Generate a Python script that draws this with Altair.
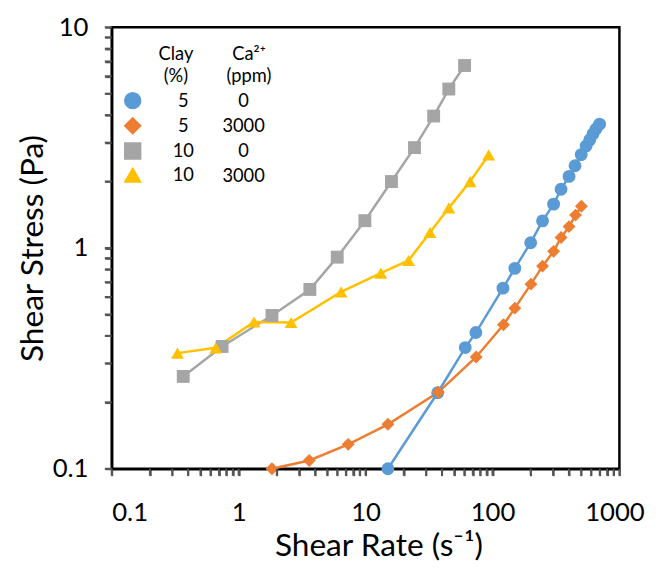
import altair as alt
import pandas as pd

# ---- data ----
series_names = ["5% clay, 0 ppm", "5% clay, 3000 ppm", "10% clay, 0 ppm", "10% clay, 3000 ppm"]
clay_pct = ["5", "5", "10", "10"]
ca_ppm = ["0", "3000", "0", "3000"]
colors = ["#5B9BD5", "#ED7D31", "#A5A5A5", "#FFC000"]
shapes = ["circle", "diamond", "square", "triangle-up"]

blue_x = [15, 37, 61, 74, 121, 150, 200, 248, 303, 347, 401, 447, 500, 547, 584, 620, 654, 698]
blue_y = [0.1, 0.221, 0.354, 0.414, 0.658, 0.809, 1.057, 1.327, 1.58, 1.845, 2.11, 2.36, 2.65, 2.90, 3.09, 3.29, 3.46, 3.64]

orange_x = [1.83, 3.6, 7.3, 15.0, 37.4, 74.4, 122, 150, 201, 248, 303, 347, 401, 451, 502]
orange_y = [0.1, 0.109, 0.129, 0.159, 0.222, 0.321, 0.449, 0.534, 0.686, 0.828, 0.966, 1.116, 1.25, 1.41, 1.545]

gray_x = [0.366, 0.741, 1.83, 3.64, 5.98, 9.88, 16.0, 24.3, 34.4, 45.3, 60.3]
gray_y = [0.262, 0.358, 0.495, 0.649, 0.909, 1.33, 2.0, 2.85, 3.96, 5.25, 6.71]

yellow_x = [0.33, 0.66, 1.32, 2.59, 6.42, 13.2, 21.8, 32.2, 45.3, 66.6, 93.3]
yellow_y = [0.334, 0.353, 0.462, 0.460, 0.633, 0.770, 0.878, 1.175, 1.52, 2.0, 2.64]

# ---- build table ----
ca_keys = ["Ca row " + str(i + 1) for i in range(len(series_names))]
rows = []
for name, ck, xs, ys in zip(series_names, ca_keys, [blue_x, orange_x, gray_x, yellow_x], [blue_y, orange_y, gray_y, yellow_y]):
    for i, (xv, yv) in enumerate(zip(xs, ys)):
        rows.append({"series": name, "series_ca": ck, "idx": i, "rate": xv, "stress": yv})
df = pd.DataFrame(rows)

x_ticks = [round(m * 10 ** e, 6) for e in range(-1, 3) for m in range(1, 10)] + [1000]
y_ticks = [round(m * 10 ** e, 6) for e in range(-1, 1) for m in range(1, 10)] + [10]

major_test = "abs(log(datum.value)/LN10 - round(log(datum.value)/LN10)) < 1e-6"
label_expr = f"{major_test} ? format(datum.value, '~g') : ''"


def map_expr(keys, labels):
    expr = "''"
    for name, lab in reversed(list(zip(keys, labels))):
        expr = f"datum.label == '{name}' ? '{lab}' : ({expr})"
    return expr


FONT = "Lato"
PLOT_W, PLOT_H, TICK = 514, 447, 7
TICK_COLOR = "#555555"
COMMON = dict(ticks=True, tickWidth=2, tickSize=TICK, tickColor=TICK_COLOR, tickOpacity=1,
              domain=True, domainColor="black", domainWidth=2.5, grid=False)

x_enc = alt.X(
    "rate:Q",
    scale=alt.Scale(type="log", domain=[0.1, 1000], nice=False),
    axis=alt.Axis(
        values=x_ticks,
        labelExpr=label_expr,
        title="Shear Rate (s\u207b\u00b9)",
        labelFlush=False,
        labelOverlap=False,
        labelAlign={"condition": {"test": "datum.value < 0.2", "value": "left"}, "value": "center"},
        labelOffset={"condition": {"test": "datum.value > 999", "value": -5}, "value": 0},
        labelPadding=24,
        titlePadding=6,
        titleX=270,
        **COMMON,
    ),
)
y_enc = alt.Y(
    "stress:Q",
    scale=alt.Scale(type="log", domain=[0.1, 10], nice=False),
    axis=alt.Axis(
        values=y_ticks,
        labelExpr=label_expr,
        title="Shear Stress (Pa)",
        labelOverlap=False,
        labelFlush=False,
        labelPadding=17,
        titlePadding=3,
        **COMMON,
    ),
)

color_scale = alt.Scale(domain=series_names, range=colors)
shape_scale = alt.Scale(domain=series_names, range=shapes)

legend_clay = alt.Legend(
    orient="none", legendX=12, legendY=65, title=None,
    labelExpr=map_expr(series_names, clay_pct), labelAlign="center", labelOffset=42,
    symbolSize=260, symbolStrokeColor="#4A76B8", symbolStrokeWidth=1.5, symbolOpacity=1,
    labelFont="Lato", labelFontSize=18.5, labelColor="black", rowPadding=2.5, padding=0,
)
legend_ca = alt.Legend(
    orient="none", legendX=115, legendY=65, title=None,
    labelExpr=map_expr(ca_keys, ca_ppm), labelAlign="center", labelOffset=0,
    symbolSize=1, symbolOpacity=0, symbolStrokeWidth=0, symbolFillColor="transparent",
    labelFont="Lato", labelFontSize=18.5, labelColor="black", rowPadding=6.5, padding=0,
)

base = alt.Chart(df)

lines = base.mark_line(strokeWidth=2.5).encode(
    x=x_enc, y=y_enc,
    color=alt.Color("series:N", scale=color_scale, legend=legend_clay),
    order="idx:Q",
)

points = base.mark_point(filled=True, size=170, opacity=1).encode(
    x=x_enc, y=y_enc,
    color=alt.Color("series:N", scale=color_scale, legend=legend_clay),
    shape=alt.Shape("series:N", scale=shape_scale, legend=legend_clay),
    opacity=alt.Opacity("series_ca:N", scale=alt.Scale(domain=ca_keys, range=[1, 1, 1, 1]), legend=legend_ca),
)

# outward tick marks drawn as rules at the axis tick values
x_tick_marks = alt.Chart(pd.DataFrame({"rate": x_ticks})).mark_rule(color=TICK_COLOR, strokeWidth=2).encode(
    x=x_enc, y=alt.value(PLOT_H), y2=alt.value(PLOT_H + TICK),
)
y_tick_marks = alt.Chart(pd.DataFrame({"stress": y_ticks})).mark_rule(color=TICK_COLOR, strokeWidth=2).encode(
    y=y_enc, x=alt.value(0), x2=alt.value(-TICK),
)

hdr_df = pd.DataFrame({"k": [0]})
hdr_clay = alt.Chart(hdr_df).mark_text(
    text="Clay\n(%)", lineBreak="\n", lineHeight=22, font=FONT, fontSize=18.5,
    align="center", baseline="middle", color="black",
).encode(x=alt.value(65), y=alt.value(27))
hdr_ca = alt.Chart(hdr_df).mark_text(
    text="Ca\u00b2\u207a\n(ppm)", lineBreak="\n", lineHeight=22, font=FONT, fontSize=18.5,
    align="center", baseline="middle", color="black",
).encode(x=alt.value(139), y=alt.value(27))

chart = (
    alt.layer(lines, points, x_tick_marks, y_tick_marks, hdr_clay, hdr_ca)
    .properties(
        width=PLOT_W, height=PLOT_H,
        autosize=alt.AutoSizeParams(type="none"),
        padding={"left": 105, "top": 16, "right": 33, "bottom": 99},
        background="white",
    )
    .configure_view(stroke="black", strokeWidth=2.5)
    .configure_axis(
        labelFont=FONT, labelFontSize=26, labelColor="black",
        titleFont=FONT, titleFontSize=32, titleFontWeight="normal", titleColor="black",
    )
)

chart.save("out.html", embed_options={"renderer": "svg", "actions": False})
